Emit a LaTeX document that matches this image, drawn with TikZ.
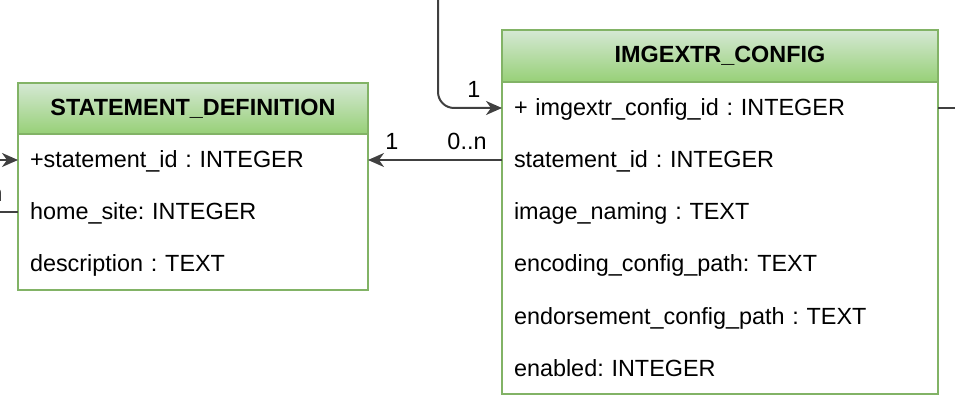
\documentclass[tikz,border=0pt]{standalone}
\usepackage{fontspec}
\setmainfont{Liberation Sans}
\usepackage{tikz}
\usetikzlibrary{positioning,arrows.meta}
\definecolor{mygreen}{RGB}{130,179,102}
\definecolor{myheadtop}{RGB}{213,232,212}
\definecolor{myheadbot}{RGB}{151,208,119}
\definecolor{mygray}{RGB}{64,64,64}
\newcommand{\erfont}{\fontsize{23.4}{28}\selectfont\frenchspacing}
\tikzset{
  tablehead/.style={draw=mygreen, line width=2pt, top color=myheadtop, bottom color=myheadbot,
    font=\erfont\bfseries, inner sep=0pt, outer sep=0pt, anchor=north west},
  tablerow/.style={text width=#1, text height=18pt, text depth=2pt, inner xsep=12pt,
    inner ysep=0pt, outer sep=0pt, minimum height=52, align=left},
  tableframe/.style={draw=mygreen, line width=2pt},
  link/.style={draw=mygray, line width=2pt},
  linkarrow/.style={link, -{Stealth[length=16pt, width=14pt, inset=5pt]}},
}

\begin{document}
\begin{tikzpicture}[x=1pt, y=-1pt, font=\erfont]
  \useasboundingbox (0,0) rectangle (955,403);
  \clip (0,0) rectangle (955,403);

  % STATEMENT_DEFINITION
  \node[tablehead, minimum width=350, minimum height=51] (sdHead) at (18,83) {STATEMENT\_DEFINITION};
  \node[tablerow=326pt, below=0pt of sdHead] (sdId) {+statement\_id : INTEGER};
  \node[tablerow=326pt, below=0pt of sdId] (sdSite) {home\_site: INTEGER};
  \node[tablerow=326pt, below=0pt of sdSite] (sdDesc) {description : TEXT};
  \draw[tableframe] (sdHead.north west) rectangle (sdDesc.south east);

  % IMGEXTR_CONFIG
  \node[tablehead, minimum width=436, minimum height=52] (imgHead) at (502,30) {IMGEXTR\_CONFIG};
  \node[tablerow=412pt, below=0pt of imgHead] (imgId) {+ imgextr\_config\_id : INTEGER};
  \node[tablerow=412pt, below=0pt of imgId] (imgStmt) {statement\_id : INTEGER};
  \node[tablerow=412pt, below=0pt of imgStmt] (imgNaming) {image\_naming : TEXT};
  \node[tablerow=412pt, below=0pt of imgNaming] (imgEnc) {encoding\_config\_path: TEXT};
  \node[tablerow=412pt, below=0pt of imgEnc] (imgEndorse) {endorsement\_config\_path : TEXT};
  \node[tablerow=412pt, below=0pt of imgEndorse] (imgEnabled) {enabled: INTEGER};
  \draw[tableframe] (imgHead.north west) rectangle (imgEnabled.south east);

  % links
  \coordinate (topIn) at (438,0);
  \draw[linkarrow, rounded corners=16pt] (topIn) |- (imgId.west);
  \draw[linkarrow] (imgStmt.west) -- (sdId.east);
  \coordinate (leftIn) at ([xshift=-18pt]sdId.west);
  \draw[linkarrow] (leftIn) -- (sdId.west);
  \coordinate (leftOut) at ([xshift=-18pt]sdSite.west);
  \draw[link] (leftOut) -- (sdSite.west);
  \coordinate (rightOut) at ([xshift=17pt]imgId.east);
  \draw[link] (imgId.east) -- (rightOut);

  % cardinalities
  \node (topCard) at (474,89) {1};
  \node (sdCard) at (392,141) {1};
  \node (imgCard) at (467,141) {0..n};
  \node[anchor=east] (leftCard) at (6,195) {n};
\end{tikzpicture}
\end{document}
